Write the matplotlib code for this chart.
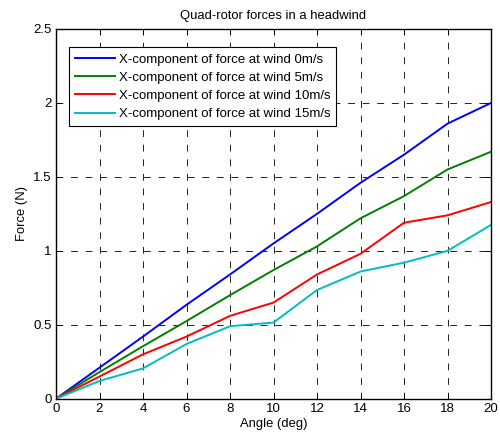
import numpy as np
import matplotlib
matplotlib.use('Agg')
import matplotlib.pyplot as plt

plt.rcParams['font.family'] = ['Liberation Sans', 'DejaVu Sans']

angle = [0, 2, 4, 6, 8, 10, 12, 14, 16, 18, 20]
force_0 = [0, 0.21, 0.42, 0.635, 0.84, 1.05, 1.25, 1.46, 1.65, 1.86, 2.0]
force_5 = [0, 0.18, 0.355, 0.525, 0.70, 0.87, 1.03, 1.22, 1.37, 1.55, 1.67]
force_10 = [0, 0.15, 0.30, 0.42, 0.56, 0.65, 0.84, 0.98, 1.19, 1.24, 1.33]
force_15 = [0, 0.12, 0.205, 0.37, 0.49, 0.515, 0.735, 0.86, 0.92, 1.0, 1.175]
labels = ['X-component of force at wind 0m/s',
          'X-component of force at wind 5m/s',
          'X-component of force at wind 10m/s',
          'X-component of force at wind 15m/s']
colors = ['#0000ff', '#008000', '#ff0000', '#00bfbf']

fig = plt.figure(figsize=(5.0, 4.36), dpi=100)
ax = fig.add_axes([56/500, 1 - 398.7/436, (491 - 56)/500, (398.7 - 29)/436])

for ys, lab, c in zip([force_0, force_5, force_10, force_15], labels, colors):
    ax.plot(angle, ys, color=c, linewidth=1.4, label=lab)

ax.set_xlim(0, 20)
ax.set_ylim(0, 2.5)
ax.set_xticks(np.arange(0, 21, 2))
ax.set_yticks([0, 0.5, 1, 1.5, 2, 2.5])
ax.set_yticklabels(['0', '0.5', '1', '1.5', '2', '2.5'])
# dashed black grid, roughly 5pt dash / 6pt gap
ax.grid(True, color='#222222', linestyle=(0, (7.0, 8.0)), linewidth=0.7)
ax.tick_params(direction='in', top=True, right=True, length=4, width=0.7,
               labelsize=9.5, pad=3)
for s in ax.spines.values():
    s.set_linewidth(1.0)

ax.set_title('Quad-rotor forces in a headwind', fontsize=9.4, pad=7)
ax.set_xlabel('Angle (deg)', fontsize=9.4, labelpad=2)
ax.set_ylabel('Force (N)', fontsize=9.4, labelpad=4)

leg = ax.legend(loc='upper left', bbox_to_anchor=(0.03, 0.95), fontsize=9.5,
                fancybox=False, framealpha=1, edgecolor='black',
                handlelength=3.0, labelspacing=0.45, borderpad=0.45,
                handletextpad=0.3, borderaxespad=0)
leg.get_frame().set_linewidth(0.8)

fig.savefig('out.png', dpi=100)
